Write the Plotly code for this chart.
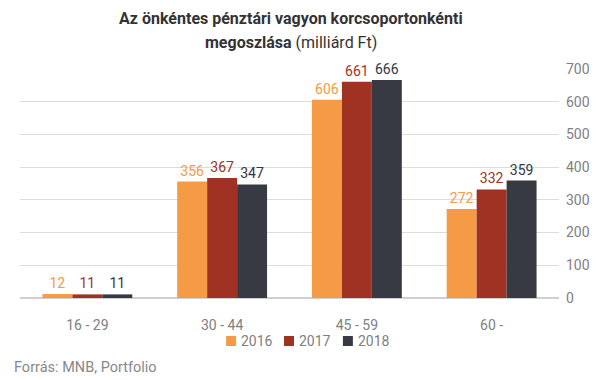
import plotly.graph_objects as go

categories = ["16 - 29", "30 - 44", "45 - 59", "60 -"]
years = ["2016", "2017", "2018"]
v2016 = [12, 356, 606, 272]
v2017 = [11, 367, 661, 332]
v2018 = [11, 347, 666, 359]
colors = ["#F59A45", "#A03223", "#373A42"]
label_colors = ["#F59A45", "#A03223", "#333640"]

W, H = 607, 380
OFF = 8  # page body margin
L, R, T, B = 19.5 - OFF, W - (559.5 - OFF), 69 - OFF, H - (298 - OFF)
PW, PH = W - L - R, H - T - B


def px(x):
    return (x - OFF - L) / PW


def py(y):
    return (H - B - (y - OFF)) / PH


fig = go.Figure()
for name, vals, c, lc in zip(years, [v2016, v2017, v2018], colors, label_colors):
    fig.add_trace(go.Bar(
        x=categories, y=vals, name=name, marker_color=c, marker_line_width=0,
        text=[str(v) for v in vals], textposition="outside",
        textfont=dict(color=lc, size=14, family="Roboto"),
        cliponaxis=False, showlegend=False,
    ))

annotations = [
    dict(text="<b>Az önkéntes pénztári vagyon korcsoportonkénti</b>",
         x=px(291), y=py(18), xref="paper", yref="paper", xanchor="center",
         yanchor="middle", showarrow=False,
         font=dict(family="Roboto", size=16, color="#333")),
    dict(text="<b>megoszlása</b> (milliárd Ft)",
         x=px(291), y=py(43), xref="paper", yref="paper", xanchor="center",
         yanchor="middle", showarrow=False,
         font=dict(family="Roboto", size=16, color="#333")),
    dict(text="Forrás: MNB, Portfolio", x=px(11), y=py(367), xref="paper",
         yref="paper", xanchor="left", yanchor="middle", showarrow=False,
         font=dict(family="Roboto", size=14.5, color="#888")),
]
shapes = []
legend_sq_x = [226, 284, 343]
for sx, c, y in zip(legend_sq_x, colors, years):
    shapes.append(dict(type="rect", xref="paper", yref="paper",
                       x0=px(sx), x1=px(sx + 10), y0=py(346), y1=py(336),
                       fillcolor=c, line=dict(width=0)))
    annotations.append(dict(text=y, x=px(sx + 13), y=py(341), xref="paper",
                            yref="paper", xanchor="left", yanchor="middle",
                            showarrow=False,
                            font=dict(family="Roboto", size=14, color="#808080")))

fig.update_layout(
    width=W, height=H,
    margin=dict(l=L, r=R, t=T, b=B, autoexpand=False),
    paper_bgcolor="white", plot_bgcolor="white",
    barmode="group", bargap=0.333, bargroupgap=0,
    font=dict(family="Roboto", color="#777", size=13),
    xaxis=dict(showgrid=False, ticks="", showline=False,
               tickfont=dict(size=14, color="#808080"), ticklabelstandoff=17),
    yaxis=dict(side="right", range=[0, 700], dtick=100, gridcolor="#dcdcdc",
               gridwidth=1, zeroline=True, zerolinecolor="#cfcfcf", showline=False,
               ticks="", tickfont=dict(size=14, color="#808080"), ticklabelstandoff=6),
    annotations=annotations,
    shapes=shapes,
)
fig.write_html("out.html")
